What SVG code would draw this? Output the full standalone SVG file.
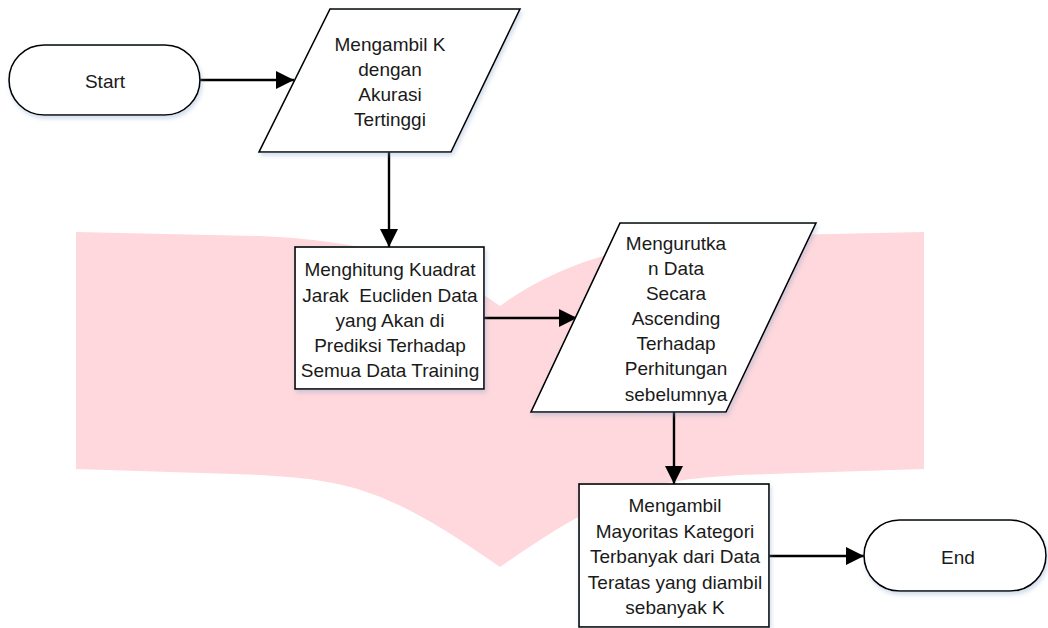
<svg xmlns="http://www.w3.org/2000/svg" width="1048" height="628" viewBox="0 0 1048 628">
<style>
.shape{fill:#ffffff;stroke:#000000;stroke-width:1.6;filter:url(#sh)}
.lbl{font-family:"Liberation Sans",Arial,sans-serif;font-size:19px;fill:#1a1a1a;text-anchor:middle;dominant-baseline:central;white-space:pre}
.conn{stroke:#000000;stroke-width:2.4;fill:none;marker-end:url(#arr)}
</style>
<defs>
<filter id="sh" x="-10%" y="-10%" width="125%" height="130%">
<feDropShadow dx="1.5" dy="3" stdDeviation="2" flood-color="#7f9cc4" flood-opacity="0.35"/>
</filter>
<marker id="arr" markerWidth="18" markerHeight="18" refX="18" refY="9" orient="auto" markerUnits="userSpaceOnUse">
<path d="M0,0 L18,9 L0,18 Z" fill="#000000"/>
</marker>
</defs>
<rect width="1048" height="628" fill="#ffffff"/>
<path id="watermark" d="M76,232 L260,236 C350,240 430,255 500,306 C570,255 650,240 740,236 L924,232 L924,469 L740,475 C650,480 610,490 500,567 C390,490 350,480 260,475 L76,469 Z" fill="#fed8dc"/>
<g id="connectors">
<line class="conn" x1="200" y1="80" x2="294" y2="80"/>
<line class="conn" x1="389" y1="152" x2="389" y2="247"/>
<line class="conn" x1="484" y1="318" x2="577" y2="318"/>
<line class="conn" x1="674" y1="412" x2="674" y2="484"/>
<line class="conn" x1="769" y1="556" x2="864" y2="556"/>
</g>
<g id="start">
<rect class="shape" x="9" y="45" width="191" height="70" rx="35" ry="35"/>
<text class="lbl" x="105" y="81">Start</text>
</g>
<g id="input-k">
<polygon class="shape" points="330,9 520,9 451,152 259,152"/>
<text class="lbl" x="390" y="44">Mengambil K</text>
<text class="lbl" x="390" y="69">dengan</text>
<text class="lbl" x="390" y="94">Akurasi</text>
<text class="lbl" x="390" y="119">Tertinggi</text>
</g>
<g id="hitung">
<rect class="shape" x="295" y="247" width="189" height="142"/>
<text class="lbl" x="390" y="269">Menghitung Kuadrat</text>
<text class="lbl" x="390" y="295" xml:space="preserve">Jarak  Eucliden Data</text>
<text class="lbl" x="390" y="320">yang Akan di</text>
<text class="lbl" x="390" y="345">Prediksi Terhadap</text>
<text class="lbl" x="390" y="370">Semua Data Training</text>
</g>
<g id="urutkan">
<polygon class="shape" points="620,223 816,223 726,412 531,412"/>
<text class="lbl" x="676" y="243">Mengurutka</text>
<text class="lbl" x="676" y="268">n Data</text>
<text class="lbl" x="676" y="293">Secara</text>
<text class="lbl" x="676" y="318">Ascending</text>
<text class="lbl" x="676" y="343">Terhadap</text>
<text class="lbl" x="676" y="368">Perhitungan</text>
<text class="lbl" x="676" y="394">sebelumnya</text>
</g>
<g id="mayoritas">
<rect class="shape" x="579" y="484" width="190" height="143"/>
<text class="lbl" x="675" y="505">Mengambil</text>
<text class="lbl" x="675" y="531">Mayoritas Kategori</text>
<text class="lbl" x="675" y="556">Terbanyak dari Data</text>
<text class="lbl" x="675" y="582">Teratas yang diambil</text>
<text class="lbl" x="675" y="607">sebanyak K</text>
</g>
<g id="end">
<rect class="shape" x="864" y="520" width="182" height="71" rx="35.5" ry="35.5"/>
<text class="lbl" x="958" y="557">End</text>
</g>
</svg>
